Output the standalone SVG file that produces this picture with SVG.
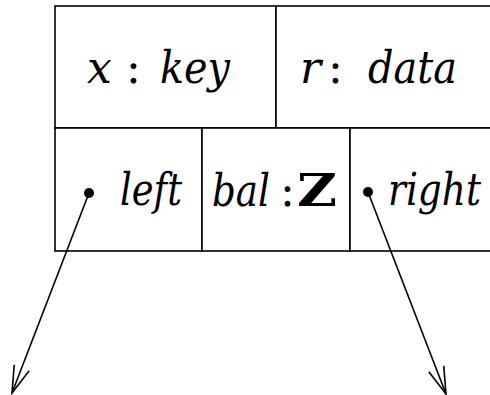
<svg xmlns="http://www.w3.org/2000/svg" width="490" height="395" viewBox="0 0 490 395">
<style>
text{font-family:'DejaVu Serif',serif;font-size:44px;font-style:italic;fill:#000}
.b{font-style:normal;font-weight:bold}
.u{font-style:normal}
.ln{stroke:#000;stroke-width:1.6;fill:none}
.cell{stroke:#000;stroke-width:1.6;fill:#fff}
</style>
<defs>
<marker id="arr" markerUnits="userSpaceOnUse" markerWidth="40" markerHeight="30" refX="0" refY="0" viewBox="-30 -15 40 30" orient="auto">
<path d="M-27,-8 L0,0 L-27,8" fill="none" stroke="#000" stroke-width="1.6"/>
</marker>
</defs>
<g id="node-key"><rect class="cell" x="55" y="6" width="221" height="122"/><text y="83"><tspan x="87">x</tspan><tspan class="u" x="126">:</tspan><tspan x="160" textLength="70" lengthAdjust="spacingAndGlyphs">key</tspan></text></g>
<g id="node-data"><rect class="cell" x="276" y="6" width="220" height="122"/><text y="83"><tspan x="300">r</tspan><tspan class="u" x="328">:</tspan><tspan x="368" textLength="89" lengthAdjust="spacingAndGlyphs">data</tspan></text></g>
<g id="node-left"><rect class="cell" x="55" y="128" width="147" height="123"/><text y="205"><tspan x="120" textLength="62" lengthAdjust="spacingAndGlyphs">left</tspan></text><circle cx="89" cy="193" r="5"/></g>
<g id="node-bal"><rect class="cell" x="202" y="128" width="148" height="123"/><text y="206"><tspan x="212" textLength="58" lengthAdjust="spacingAndGlyphs">bal</tspan><tspan class="u" x="280">:</tspan><tspan class="b" x="297" textLength="40" lengthAdjust="spacingAndGlyphs">Z</tspan></text></g>
<g id="node-right"><rect class="cell" x="350" y="128" width="146" height="123"/><text y="205"><tspan x="388" textLength="93" lengthAdjust="spacingAndGlyphs">right</tspan></text><circle cx="368" cy="192" r="5"/></g>
<g id="connectors">
<line class="ln" x1="89" y1="193" x2="12" y2="393" marker-end="url(#arr)"/>
<line class="ln" x1="368" y1="192" x2="446" y2="394" marker-end="url(#arr)"/>
</g>
</svg>
